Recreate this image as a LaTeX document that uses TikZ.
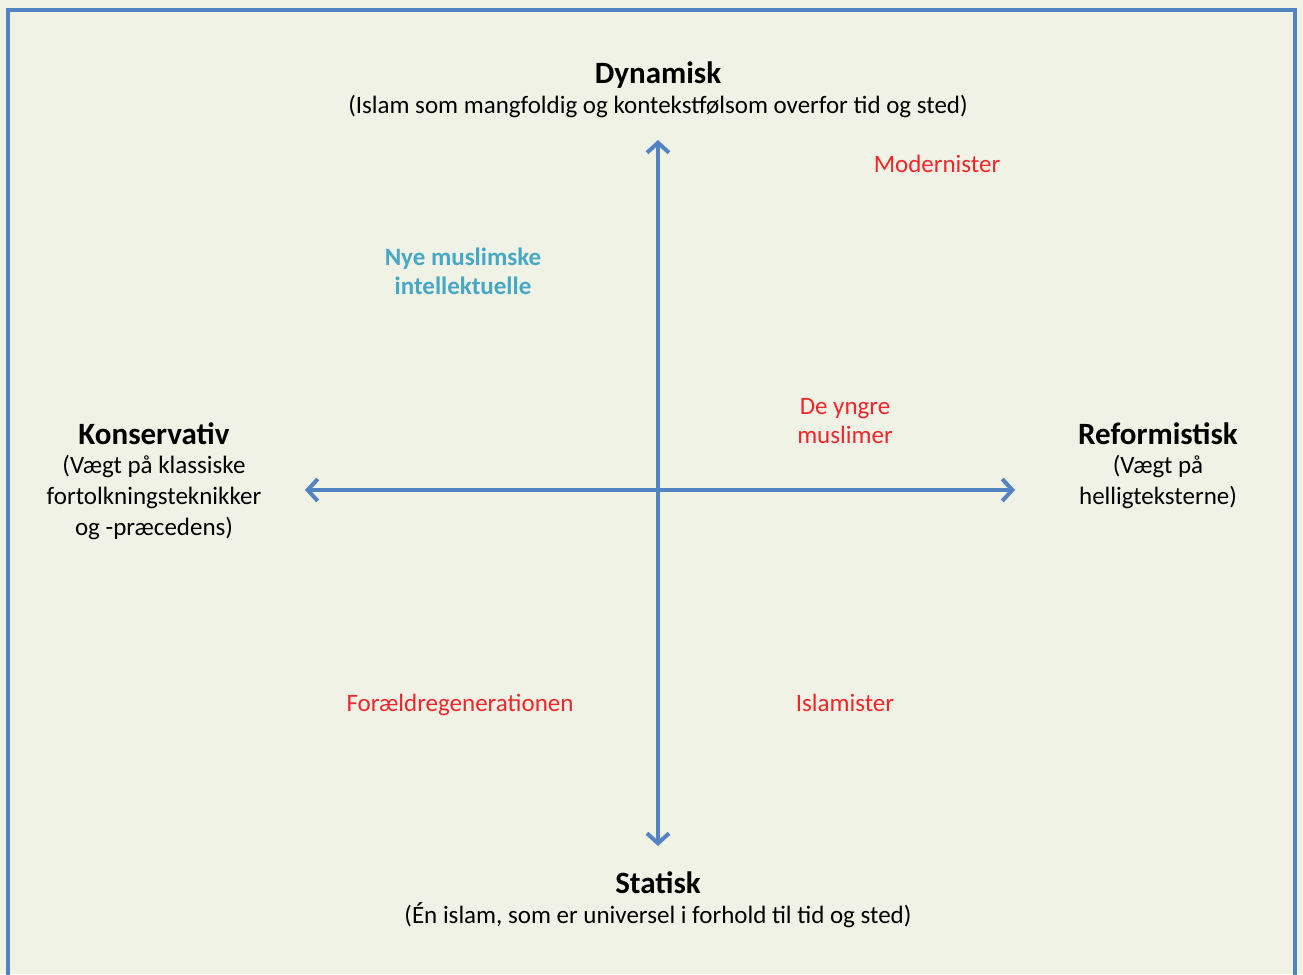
\documentclass[tikz,border=0pt]{standalone}
\usepackage{fontspec}
\setmainfont{Carlito}
\usetikzlibrary{arrows.meta}
\definecolor{bgcol}{HTML}{F1F2E6}
\definecolor{axcol}{HTML}{5284C4}
\definecolor{redtxt}{HTML}{F0262A}
\definecolor{tealtxt}{HTML}{47A8C6}
\begin{document}
\begin{tikzpicture}[x=1pt,y=-1pt,
  axis/.style={draw=axcol,line width=3.5pt,{Straight Barb[length=10pt,width=22pt,line width=4pt]}-{Straight Barb[length=10pt,width=22pt,line width=4pt]}},
  head/.style={font=\fontsize{31}{35}\selectfont\bfseries,inner sep=0pt,anchor=base},
  sub/.style={font=\fontsize{25}{31}\selectfont,inner sep=0pt,align=center,anchor=base},
  grp/.style={font=\fontsize{25}{29}\selectfont,inner sep=0pt,align=center,anchor=base,text=redtxt},
  tgrp/.style={font=\fontsize{25}{29}\selectfont\bfseries,inner sep=0pt,align=center,anchor=base,text=tealtxt}]
\useasboundingbox (0,0) rectangle (1303,974);
\fill[bgcol] (0,0) rectangle (1303,974);
\draw[axcol,line width=4pt] (8,990) -- (8,10) -- (1295,10) -- (1295,990);
% axes
\coordinate (top) at (658,140);
\coordinate (bot) at (658,846);
\coordinate (left) at (305,490);
\coordinate (right) at (1015,490);
\draw[axis] (bot) -- (top);
\draw[axis] (left) -- (right);
% pole labels
\node[head] (dyn) at (658,83) {Dynamisk};
\node[sub] (dynsub) at (658,113) {(Islam som mangfoldig og kontekstfølsom overfor tid og sted)};
\node[head] (stat) at (658,893) {Statisk};
\node[sub] (statsub) at (658,923) {(Én islam, som er universel i forhold til tid og sted)};
\node[head] (kons) at (154,444) {Konservativ};
\node[sub,anchor=north] (konssub) at (154,455) {(Vægt på klassiske\\fortolkningsteknikker\\og -præcedens)};
\node[head] (ref) at (1158,444) {Reformistisk};
\node[sub,anchor=north] (refsub) at (1158,455) {(Vægt på\\helligteksterne)};
% groups
\node[grp] (mod) at (937,172) {Modernister};
\node[tgrp,anchor=north] (nye) at (463,248) {Nye muslimske\\intellektuelle};
\node[grp,anchor=north] (yngre) at (845,398) {De yngre\\muslimer};
\node[grp] (foraeld) at (460,711) {Forældregenerationen};
\node[grp] (islam) at (845,711) {Islamister};
\end{tikzpicture}
\end{document}
